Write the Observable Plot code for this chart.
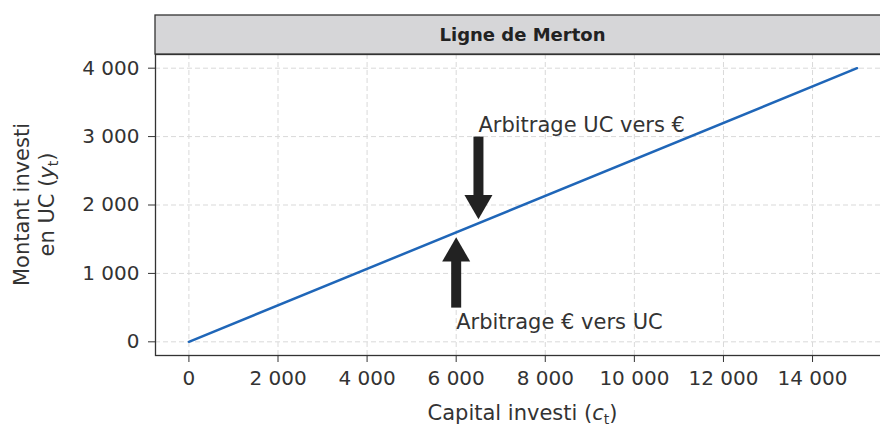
<!DOCTYPE html>
<html><head><meta charset="utf-8">
<script src="https://cdn.jsdelivr.net/npm/d3@7"></script>
<script src="https://cdn.jsdelivr.net/npm/@observablehq/plot@0.6"></script>
<style>
html,body{margin:0;padding:0;background:#fff;overflow:hidden;width:880px;height:426px}
#chart svg{overflow:visible;max-width:none !important}
</style></head><body><div id="chart"></div>
<script>
// Data
const capital = [0, 15000];
const montant = [0, 4000];
const xTicks = [0, 2000, 4000, 6000, 8000, 10000, 12000, 14000];
const yTicks = [0, 1000, 2000, 3000, 4000];
const arrowX = [6500, 6000];
const arrowTail = [3000, 500];
const arrowTip = [1800, 1520];
const arrowLabels = ["Arbitrage UC vers €", "Arbitrage € vers UC"];
const panelTitle = "Ligne de Merton";

const line = capital.map((c, i) => ({c, y: montant[i]}));
const arrows = arrowX.map((x, i) => ({x, tail: arrowTail[i], tip: arrowTip[i], label: arrowLabels[i], down: arrowTip[i] < arrowTail[i]}));
const down = arrows.filter(d => d.down);
const up = arrows.filter(d => !d.down);
const fmt = d => d3.format(",")(d).replace(/,/g, " ");
const ink = "#222";

const chart = Plot.plot({
  width: 892, height: 426,
  marginLeft: 155, marginRight: 2, marginTop: 54, marginBottom: 71,
  style: {fontFamily: "DejaVu Sans", color: "#333", background: "#fff", maxWidth: "none"},
  x: {domain: [-750, 15750]},
  y: {domain: [-200, 4200]},
  marks: [
    Plot.gridX(xTicks, {stroke: "#d9d9d9", strokeOpacity: 1, strokeWidth: 1, strokeDasharray: "5,3"}),
    Plot.gridY(yTicks, {stroke: "#d9d9d9", strokeOpacity: 1, strokeWidth: 1, strokeDasharray: "5,3"}),
    Plot.axisX({ticks: xTicks, tickFormat: fmt, tickSize: 7, tickPadding: 8, fontSize: 20, label: null, stroke: "#333", fill: "#333"}),
    Plot.axisY({ticks: yTicks, tickFormat: fmt, tickSize: 7, tickPadding: 9, fontSize: 20, label: null, stroke: "#333", fill: "#333"}),
    Plot.line(line, {x: "c", y: "y", stroke: "#1f66b8", strokeWidth: 2.5}),
    Plot.arrow(arrows, {x: "x", y1: "tail", y2: "tip", insetEnd: 20, headLength: 0, strokeWidth: 10, stroke: ink, strokeLinecap: "butt"}),
    Plot.dot(down, {x: "x", y: "tip", symbol: "triangle", r: 10.4, fill: ink, stroke: "none", rotate: 180, dy: -15.6}),
    Plot.dot(up, {x: "x", y: "tip", symbol: "triangle", r: 10.4, fill: ink, stroke: "none", dy: 15.6}),
    Plot.text(down, {x: "x", y: "tail", text: "label", textAnchor: "start", lineAnchor: "bottom", fontSize: 21, fill: "#333", dy: -5}),
    Plot.text(up, {x: "x", y: "tail", text: "label", textAnchor: "start", lineAnchor: "top", fontSize: 21, fill: "#333", dy: 6}),
    Plot.frame({stroke: "#333", strokeWidth: 1.3})
  ]
});
document.getElementById("chart").appendChild(chart);

// Panel strip, axis titles
const svg = d3.select(chart);
const [x0, x1] = chart.scale("x").range;
const [yb, yt] = chart.scale("y").range;
const strip = svg.append("g");
strip.append("rect").attr("x", x0).attr("y", 15).attr("width", x1 - x0).attr("height", yt - 15)
  .attr("fill", "#d6d6d8").attr("stroke", "#333").attr("stroke-width", 1.3);
strip.append("text").attr("x", (x0 + x1) / 2).attr("y", (15 + yt) / 2).attr("dy", "0.35em")
  .attr("text-anchor", "middle").attr("font-family", "DejaVu Sans").attr("font-weight", "bold")
  .attr("font-size", 18).attr("fill", "#222").text(panelTitle);

const xl = svg.append("text").attr("x", (x0 + x1) / 2).attr("y", 420).attr("text-anchor", "middle")
  .attr("font-family", "DejaVu Sans").attr("font-size", 21).attr("fill", "#333");
xl.append("tspan").text("Capital investi (");
xl.append("tspan").attr("font-style", "italic").text("c");
xl.append("tspan").attr("font-size", 14).attr("dy", 4).text("t");
xl.append("tspan").attr("dy", -4).text(")");

const yl = svg.append("text").attr("transform", `translate(34.5,${(yb + yt) / 2}) rotate(-90)`)
  .attr("text-anchor", "middle").attr("font-family", "DejaVu Sans").attr("font-size", 21).attr("fill", "#333");
yl.append("tspan").attr("x", 0).attr("y", -12.5).attr("dy", "0.35em").text("Montant investi");
const l2 = yl.append("tspan").attr("x", 0).attr("y", 12.5).attr("dy", "0.35em");
l2.append("tspan").text("en UC (");
l2.append("tspan").attr("font-style", "italic").text("y");
l2.append("tspan").attr("font-size", 14).attr("dy", 4).text("t");
l2.append("tspan").attr("dy", -4).text(")");
</script></body></html>
